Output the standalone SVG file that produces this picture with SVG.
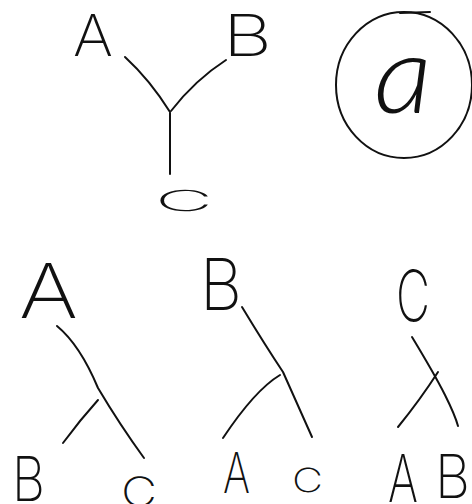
<svg xmlns="http://www.w3.org/2000/svg" width="472" height="504" viewBox="0 0 472 504">
<style>
.t{font-family:Inter,"Open Sans","Liberation Sans",sans-serif;font-weight:200;fill:#111;text-anchor:start}
.i{font-family:Lato,"Open Sans","Liberation Sans",sans-serif;font-style:italic;font-weight:300;fill:#111}
.l{fill:none;stroke:#111;stroke-width:2;stroke-linecap:round;stroke-linejoin:round}
</style>
<rect width="472" height="504" fill="#fff"/>
<g id="connectors">
<path class="l" d="M125,57 Q150,80 170,112"/>
<path class="l" d="M226,60 Q195,80 171,111"/>
<path class="l" d="M170,113 L170,174"/>
<path class="l" d="M57,326 Q80,345 98,388 Q120,425 144,458"/>
<path class="l" d="M98,400 Q80,420 63,443"/>
<path class="l" d="M242,307 Q265,345 283,372 Q300,410 312,437"/>
<path class="l" d="M280,375 Q255,390 223,438"/>
<path class="l" d="M412,337 Q435,375 445,395 Q455,415 458,426"/>
<path class="l" d="M438,372 Q420,400 398,427"/>
</g>
<g id="node-A-top"><text class="t" x="73" y="56" font-size="58" textLength="40" lengthAdjust="spacingAndGlyphs">A</text></g>
<g id="node-B-top"><text class="t" x="223" y="56" font-size="58" textLength="49" lengthAdjust="spacingAndGlyphs">B</text></g>
<g id="node-C-top"><text class="t" x="155" y="211" font-size="29" textLength="58" lengthAdjust="spacingAndGlyphs">C</text></g>
<g id="node-a">
<ellipse class="l" cx="404" cy="85" rx="68" ry="73"/>
<path class="l" d="M400,13 L430,12"/>
<text class="i" x="374" y="113" font-size="108" textLength="58" lengthAdjust="spacingAndGlyphs">a</text>
</g>
<g id="node-A-1"><text class="t" x="19" y="318" font-size="75" textLength="59" lengthAdjust="spacingAndGlyphs">A</text></g>
<g id="node-B-1"><text class="t" x="12" y="501" font-size="62" textLength="33" lengthAdjust="spacingAndGlyphs">B</text></g>
<g id="node-C-1"><text class="t" x="121" y="506" font-size="40" textLength="36" lengthAdjust="spacingAndGlyphs">C</text></g>
<g id="node-B-2"><text class="t" x="200" y="310" font-size="71" textLength="42" lengthAdjust="spacingAndGlyphs">B</text></g>
<g id="node-A-2"><text class="t" x="223" y="493" font-size="56" textLength="27" lengthAdjust="spacingAndGlyphs">A</text></g>
<g id="node-C-2"><text class="t" x="292" y="492" font-size="33" textLength="31" lengthAdjust="spacingAndGlyphs">C</text></g>
<g id="node-C-3"><text class="t" x="396" y="321" font-size="70" textLength="34" lengthAdjust="spacingAndGlyphs">C</text></g>
<g id="node-A-3"><text class="t" x="388" y="502" font-size="66" textLength="30" lengthAdjust="spacingAndGlyphs">A</text></g>
<g id="node-B-3"><text class="t" x="435" y="498" font-size="60" textLength="35" lengthAdjust="spacingAndGlyphs">B</text></g>
</svg>
